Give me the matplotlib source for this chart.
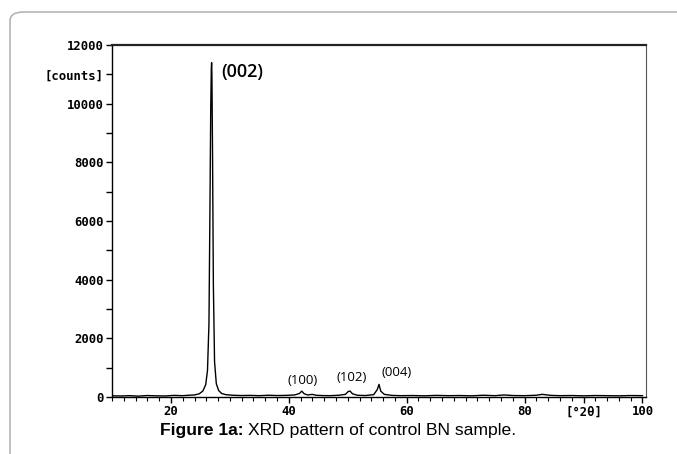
import matplotlib.pyplot as plt
from matplotlib.patches import FancyBboxPatch

# 2theta (deg) and intensity (counts)
two_theta = [10, 11.5, 13, 14.5, 16, 17.5, 19, 20.5, 22, 23, 24, 24.8, 25.4,
             25.9, 26.2, 26.45, 26.6, 26.75, 26.85, 26.9, 26.95, 27.05, 27.2,
             27.4, 27.7, 28.1, 28.6, 29.3, 30.5, 32, 33.5, 35, 36.5, 38, 39.5,
             41, 41.8, 42.2, 42.6, 43.2, 44, 44.6, 45.5, 47, 48.5, 49.6, 50.1,
             50.4, 50.8, 51.6, 53, 54.4, 55.0, 55.3, 55.6, 56.2, 57.5, 59, 61,
             63, 65, 67, 69, 71, 73, 75, 76.5, 78, 80, 82, 83, 84.5, 86, 88,
             90, 92, 94, 96, 98, 100]
counts = [40, 35, 45, 30, 50, 40, 35, 55, 45, 60, 70, 110, 200,
          420, 900, 2500, 6000, 9800, 11200, 11400, 11000, 8500, 3800,
          1200, 450, 220, 120, 80, 60, 50, 55, 45, 60, 50, 55,
          70, 120, 200, 110, 70, 90, 60, 50, 45, 60, 90, 190,
          200, 110, 60, 50, 80, 250, 430, 200, 90, 55, 45, 50,
          40, 55, 45, 50, 40, 60, 45, 70, 50, 45, 60, 90, 55, 45, 50,
          40, 50, 45, 40, 50, 45]

peak_labels = ["(002)", "(100)", "(102)", "(004)"]
label_x = [28.6, 39.8, 48.1, 55.8]
label_y = [11090, 546, 650, 820]
label_size = [13, 9.5, 9.5, 9.5]

y_ticks = list(range(0, 13000, 1000))
y_labels = ["0", "", "2000", "", "4000", "", "6000", "", "8000", "",
            "10000", "[counts]", "12000"]
x_ticks = [20, 40, 60, 80, 90, 100]
x_labels = ["20", "40", "60", "80", "[°2θ]", "100"]

fig = plt.figure(figsize=(6.77, 4.54), dpi=100)

# card frame
card = FancyBboxPatch((10 / 677, -0.2), 1.2, 0.2 + 1 - 12 / 454,
                      boxstyle="round,pad=0,rounding_size=0.02",
                      transform=fig.transFigure, facecolor="none",
                      edgecolor="#b5b5b5", linewidth=1.2, zorder=-1)
fig.patches.append(card)

ax = fig.add_axes([112 / 677, 1 - 397 / 454, (646 - 112) / 677, (397 - 45) / 454])
ax.patch.set_alpha(0)
ax.plot(two_theta, counts, color="black", linewidth=1.0)

ax.set_xlim(10, 100.6)
ax.set_ylim(0, 12000)

mono = {"family": "DejaVu Sans Mono", "weight": "bold", "size": 8.8}
ax.set_yticks(y_ticks)
ax.set_yticklabels(y_labels, fontdict=mono)
ax.set_xticks(x_ticks)
ax.set_xticklabels(x_labels, fontdict=mono)
ax.set_xticks(list(range(10, 101, 2)), minor=True)
ax.tick_params(axis="both", which="major", length=4, width=1, direction="out", pad=2)
ax.tick_params(axis="x", which="minor", length=3, width=0.8, direction="out")

ax.spines["top"].set_linewidth(1.6)
ax.spines["top"].set_color("#222222")
ax.spines["left"].set_linewidth(1.0)
ax.spines["bottom"].set_linewidth(1.0)
ax.spines["right"].set_linewidth(0.8)
ax.spines["right"].set_color("#555555")

for txt, lx, ly, sz in zip(peak_labels, label_x, label_y, label_size):
    ax.text(lx, ly, txt, fontsize=sz, family="Open Sans",
            weight="semibold" if sz > 10 else "normal", va="center", ha="left")

cap_bold = fig.text(160 / 677, 1 - 430 / 454, "Figure 1a:", family="Liberation Sans",
                    weight="bold", fontsize=12.6, va="center", ha="left")
fig.canvas.draw()
bb = cap_bold.get_window_extent()
fig.text(bb.x1 / 677 + 4 / 677, 1 - 430 / 454, "XRD pattern of control BN sample.",
         family="Liberation Sans", fontsize=12.6, va="center", ha="left")

fig.savefig("out.png", dpi=100)
